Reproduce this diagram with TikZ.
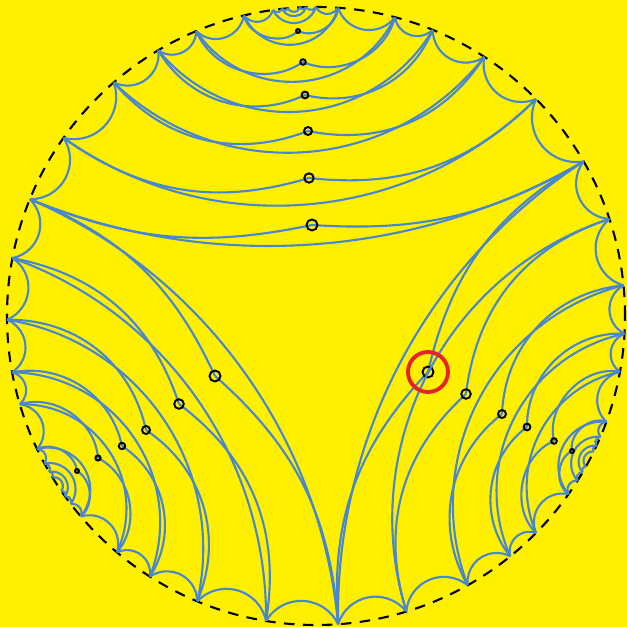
\documentclass[tikz,border=0pt]{standalone}
\usetikzlibrary{calc}
\definecolor{paper}{RGB}{255,240,0}
\definecolor{geoblue}{RGB}{72,134,206}
\definecolor{hired}{RGB}{230,35,40}

\newcommand\R{309}
% arc between two rim points (angles #1, #2), leaving the chord at angle #3
\newcommand\bow[3]{%
  \pgfmathsetmacro\ga{min(#1,#2)}%
  \pgfmathsetmacro\gb{max(#1,#2)}%
  \pgfmathsetmacro\gm{(\ga+\gb)/2+180}%
  \draw[geo] (\ga:\R) arc[start angle=\gm+#3, end angle=\gm-#3,
    radius={\R*sin((\gb-\ga)/2)/sin(#3)}];}
% geodesic from rim point (angle #1) to inner point #2
\newcommand\halfgeo[2]{%
  \draw[geo] let \p1=(#1:\R), \p2=(#2),
    \n1={atan2(\y2-\y1,\x2-\x1)}, \n2={#1+180}, \n3={2*\n1-#1}
    in (\p1) to[out=\n2, in=\n3] (\p2);}

\begin{document}
\begin{tikzpicture}[x=0.01cm, y=0.01cm,
  geo/.style={geoblue, line width=0.6pt},
  ring/.style={draw=black, line width=0.55pt},
  rim/.style={black, line width=0.6pt, dash pattern=on 3pt off 2.4pt},
  hilite/.style={draw=hired, line width=1.1pt}]
\fill[paper] (-316,-311) rectangle (311,316);
\draw[rim] (0,0) circle[radius=\R];

% scallops along the rim
\foreach \ua/\ub in {157.8/144.8, 144.8/130.9, 130.9/120.7, 120.7/112.8,
    112.8/103.5, 103.5/98, 98/96.3, 96.3/95.2, 30/44.6, 44.6/57, 57/67.8,
    67.8/75.2, 75.2/85.9, 85.9/90, 90/91.8, 91.8/93,
    157.8/169.2, 169.2/180.7, 180.7/190.5, 190.5/196.6, 196.6/205.5,
    205.5/208.5, 208.5/210.3, 210.3/211.5, 274.1/260.7, 260.7/247.4,
    247.4/237.5, 237.5/229.9, 229.9/220.45, 220.45/217.5, 217.5/215.7,
    215.7/214.5,
    274.1/287, 287/299.4, 299.4/308.95, 308.95/315.4, 315.4/324.8,
    324.8/327.8, 327.8/329.6, 329.6/330.8, 390/378.3, 378.3/365.7,
    365.7/356.7, 356.7/349.6, 349.6/340, 340/337, 337/335.2, 335.2/334}
  {\bow{\ua}{\ub}{62}}

% nested arcs at the three cusps
\foreach \ua/\ub in {98/90, 96.3/91.8, 95.2/93, 208.5/217.5, 210.3/215.7,
    211.5/214.5, 327.8/337, 329.6/335.2, 330.8/334}
  {\bow{\ua}{\ub}{68}}

% the three fans: arc, broken path and its marked point
\foreach \ua/\ub/\tt/\mx/\my/\rr in {157.8/30/26.1/-4/91/5.5,
    144.8/44.6/40/-7/138/4.7, 130.9/57/48/-8/185/4,
    120.7/67.8/55/-11/221/3.4, 112.8/75.2/60/-13/254/2.8,
    103.5/85.9/70/-18/285/2,
    157.8/274.1/30.7/-101/-60/5.5, 169.2/260.7/35.4/-137/-88/4.8,
    180.7/247.4/47.1/-170/-114/4, 190.5/237.5/55.2/-194/-130/3.2,
    196.6/229.9/57.9/-218/-142/2.6, 205.5/220.45/72/-239/-155/2,
    274.1/390/29/112/-56/5.5, 287/378.3/44.5/150/-78/4.8,
    299.4/365.7/48.3/186/-98/4, 308.95/356.7/51/211/-111/3.4,
    315.4/349.6/50.5/238/-125/2.8, 324.8/340/67/256/-135/2}
  {\bow{\ua}{\ub}{\tt}\halfgeo{\ua}{\mx,\my}\halfgeo{\ub}{\mx,\my}
   \draw[ring] (\mx,\my) circle[radius=\rr];}

\coordinate (pick) at (112,-56);
\draw[hilite] (pick) circle[radius=20];
\end{tikzpicture}
\end{document}
